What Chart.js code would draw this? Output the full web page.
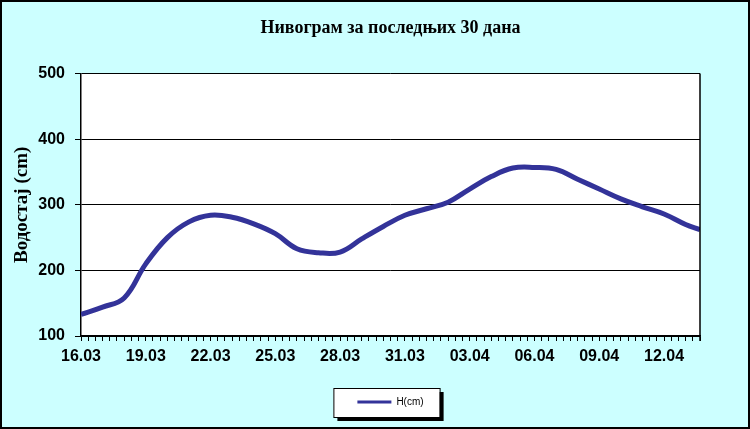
<!DOCTYPE html>
<html>
<head>
<meta charset="utf-8">
<script src="https://cdn.jsdelivr.net/npm/chart.js@4.4.1/dist/chart.umd.min.js"></script>
<style>
html,body{margin:0;padding:0;background:#CCFFFF;}
#wrap{width:750px;height:429px;position:relative;}
</style>
</head>
<body>
<div id="wrap"><canvas id="c" width="750" height="429"></canvas></div>
<script>
const chartTitle = 'Нивограм за последњих 30 дана';
const yAxisTitle = 'Водостај (cm)';
const seriesName = 'H(cm)';
const tickLabels = ['16.03','19.03','22.03','25.03','28.03','31.03','03.04','06.04','09.04','12.04'];
// x position of each reading in 8-hour slots counted from 16.03
const readingSlot = [0,3,6,9,12,15,18,21,24,27,30,33,36,39,42,45,48,51,54,57,60,63,66,69,72,75,78,81,84,86];
const waterLevel = [133,144,158,210,250,274,284,281,271,256,233,227,228,248,267,284,294,304,324,343,356,357,354,339,324,309,297,286,270,262];
const yTicks = [100,200,300,400,500];

const bgPlugin = {
  id: 'bg',
  beforeDraw(chart) {
    const ctx = chart.ctx, a = chart.chartArea;
    ctx.save();
    ctx.fillStyle = '#CCFFFF';
    ctx.fillRect(0, 0, chart.width, chart.height);
    ctx.strokeStyle = '#000';
    ctx.lineWidth = 2;
    ctx.strokeRect(1, 1, chart.width - 2, chart.height - 2);
    ctx.fillStyle = '#FFFFFF';
    ctx.fillRect(a.left, a.top, a.right - a.left, a.bottom - a.top);
    // legend frame with shadow
    const lg = chart.legend;
    if (lg && lg.legendHitBoxes && lg.legendHitBoxes.length) {
      const hb = lg.legendHitBoxes[0];
      const l = hb.left - 24, t = hb.top - 9, w = hb.width + 40, h = 29;
      ctx.fillStyle = '#000';
      ctx.fillRect(l + 4, t + 4, w, h);
      ctx.fillStyle = '#FFF';
      ctx.fillRect(l, t, w, h);
      ctx.lineWidth = 1;
      ctx.strokeStyle = '#000';
      ctx.strokeRect(l + 0.5, t + 0.5, w, h);
    }
    ctx.restore();
  },
  afterDatasetsDraw(chart) {
    const ctx = chart.ctx, a = chart.chartArea;
    ctx.save();
    ctx.strokeStyle = '#000';
    ctx.lineWidth = 1.5;
    ctx.beginPath();
    ctx.moveTo(a.right, a.top);
    ctx.lineTo(a.right, a.bottom + 5);
    ctx.stroke();
    ctx.restore();
  }
};

new Chart(document.getElementById('c'), {
  type: 'line',
  data: {
    datasets: [{
      label: seriesName,
      data: readingSlot.map((s, i) => ({x: s, y: waterLevel[i]})),
      borderColor: '#333399',
      backgroundColor: '#333399',
      borderWidth: 5,
      pointRadius: 0,
      tension: 0.4,
      fill: false
    }]
  },
  options: {
    responsive: false,
    animation: false,
    devicePixelRatio: 1,
    layout: {padding: {left: 0, right: 50, top: 0, bottom: 12}},
    plugins: {
      title: {
        display: true,
        fullSize: false,
        text: chartTitle,
        color: '#000',
        font: {family: 'Liberation Serif', size: 18, weight: 'bold'},
        padding: {top: 18, bottom: 34}
      },
      legend: {
        display: true,
        fullSize: false,
        position: 'bottom',
        labels: {
          color: '#000',
          font: {family: 'Liberation Sans', size: 10},
          boxWidth: 34,
          boxHeight: 3,
          padding: 10,
          generateLabels(chart) {
            return Chart.defaults.plugins.legend.labels.generateLabels(chart).map(l => Object.assign(l, {lineWidth: 0, strokeStyle: 'rgba(0,0,0,0)'}));
          }
        }
      },
      tooltip: {enabled: false}
    },
    scales: {
      x: {
        type: 'linear',
        min: 0,
        max: 86,
        afterFit(s) { s.height = 51; },
        afterBuildTicks(s) {
          const t = [];
          for (let v = 0; v <= 86; v++) t.push({value: v});
          s.ticks = t;
        },
        ticks: {
          autoSkip: false,
          maxRotation: 0,
          padding: 6,
          color: '#000',
          font: {family: 'Liberation Sans', size: 16, weight: 'bold'},
          callback: (v) => (v % 9 === 0 ? tickLabels[v / 9] : '')
        },
        grid: {drawOnChartArea: false, color: '#000', tickLength: 5, lineWidth: 1},
        border: {color: '#000', width: 1.5}
      },
      y: {
        min: 100,
        max: 500,
        afterFit(s) { s.width = 81; },
        afterBuildTicks(s) { s.ticks = yTicks.map(v => ({value: v})); },
        ticks: {
          color: '#000',
          padding: 10,
          font: {family: 'Liberation Sans', size: 16, weight: 'bold'}
        },
        grid: {color: '#000', lineWidth: 1, tickLength: 6},
        border: {color: '#000', width: 1.5},
        title: {
          display: true,
          text: yAxisTitle,
          color: '#000',
          font: {family: 'Liberation Serif', size: 19, weight: 'bold'},
          padding: {top: 11, bottom: 0}
        }
      }
    }
  },
  plugins: [bgPlugin]
});
</script>
</body>
</html>
